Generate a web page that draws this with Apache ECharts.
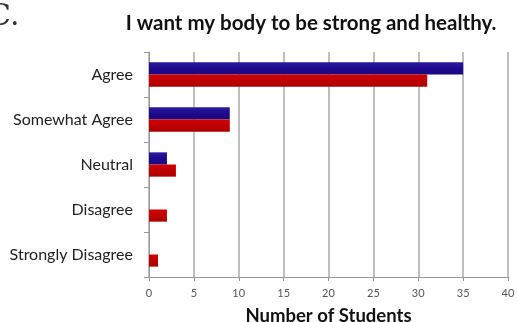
<!DOCTYPE html>
<html>
<head>
<meta charset="utf-8">
<script src="https://cdn.jsdelivr.net/npm/echarts@6/dist/echarts.min.js"></script>
<style>html,body{margin:0;padding:0;background:#fff}#c{width:517px;height:322px}</style>
</head>
<body>
<div id="c"></div>
<script>
const categories = ['Agree', 'Somewhat Agree', 'Neutral', 'Disagree', 'Strongly Disagree'];
const blueValues = [35, 9, 2, 0, 0];
const redValues = [31, 9, 3, 2, 1];
const xTicks = [0, 5, 10, 15, 20, 25, 30, 35, 40];

const chart = echarts.init(document.getElementById('c'));
chart.setOption({
  animation: false,
  backgroundColor: '#fff',
  title: {
    text: 'I want my body to be strong and healthy.',
    left: 306, top: 8, textAlign: 'center',
    textStyle: {fontFamily: 'Lato', fontWeight: 'bold', fontSize: 20.5, color: '#111'}
  },
  graphic: [{
    type: 'text', left: -12, top: 2,
    style: {text: 'C.', font: '30px "DejaVu Serif"', fill: '#333'}
  }],
  grid: {left: 149, right: 9, top: 52, bottom: 45, containLabel: false, outerBoundsMode: 'none'},
  xAxis: {
    type: 'value', min: xTicks[0], max: xTicks[xTicks.length - 1], interval: 5,
    name: 'Number of Students', nameLocation: 'middle', nameGap: 30,
    nameTextStyle: {fontFamily: 'Lato', fontWeight: 'bold', fontSize: 18.5, color: '#111'},
    axisLine: {show: true, lineStyle: {color: '#999'}},
    axisTick: {show: true, length: 4, lineStyle: {color: '#999'}},
    axisLabel: {fontFamily: 'Lato', fontSize: 11, color: '#555', margin: 11},
    splitLine: {show: true, lineStyle: {color: '#aaa', width: 1.5}}
  },
  yAxis: {
    type: 'category', data: categories, inverse: true,
    axisLine: {show: true, lineStyle: {color: '#999'}},
    axisTick: {show: true, length: 5, lineStyle: {color: '#999'}},
    axisLabel: {fontFamily: 'Lato', fontSize: 16, color: '#222', margin: 16}
  },
  series: [
    {type: 'bar', data: blueValues, barGap: '0%', barCategoryGap: '46%',
     itemStyle: {color: new echarts.graphic.LinearGradient(0,0,0,1,[{offset:0,color:'#2a1aa0'},{offset:0.5,color:'#1e0a8c'},{offset:1,color:'#1a0880'}])}},
    {type: 'bar', data: redValues, barGap: '0%', barCategoryGap: '46%',
     itemStyle: {color: new echarts.graphic.LinearGradient(0,0,0,1,[{offset:0,color:'#d00000'},{offset:0.5,color:'#c00000'},{offset:1,color:'#a80000'}])}}
  ]
});
</script>
</body>
</html>
